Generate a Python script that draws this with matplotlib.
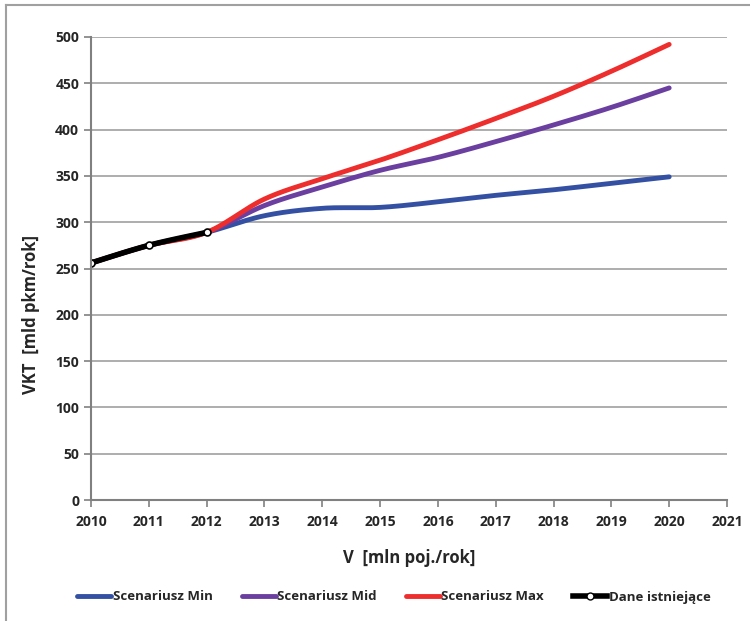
import numpy as np
import matplotlib.pyplot as plt
from matplotlib.lines import Line2D

plt.rcParams['font.family'] = ['Open Sans', 'DejaVu Sans']

years = [2010, 2011, 2012, 2013, 2014, 2015, 2016, 2017, 2018, 2019, 2020]
scen_min = [256, 275, 289, 307, 315, 316, 322, 329, 335, 342, 349]
scen_mid = [256, 275, 289, 318, 338, 356, 370, 387, 405, 424, 445]
scen_max = [256, 275, 289, 325, 347, 367, 389, 412, 436, 463, 492]
hist_years = [2010, 2011, 2012]
hist_vals = [256, 275, 289]


def smooth(x, y, n=30):
    # Catmull-Rom like Excel "smoothed line"
    x = np.asarray(x, float)
    y = np.asarray(y, float)
    px = np.concatenate([[x[0]], x, [x[-1]]])
    py = np.concatenate([[y[0]], y, [y[-1]]])
    xs, ys = [], []
    for i in range(1, len(px) - 2):
        p0, p1, p2, p3 = [np.array([px[j], py[j]]) for j in (i - 1, i, i + 1, i + 2)]
        c1 = p1 + (p2 - p0) / 6
        c2 = p2 - (p3 - p1) / 6
        t = np.linspace(0, 1, n)[:, None]
        b = (1 - t) ** 3 * p1 + 3 * (1 - t) ** 2 * t * c1 + 3 * (1 - t) * t ** 2 * c2 + t ** 3 * p2
        xs.extend(b[:, 0])
        ys.extend(b[:, 1])
    return xs, ys


fig = plt.figure(figsize=(7.5, 6.21), dpi=100)
ax = fig.add_axes([91 / 750, 1 - 500 / 621, (727 - 91) / 750, (500 - 37) / 621])

ax.plot(*smooth(years, scen_min), color='#3350a3', lw=3.5, solid_capstyle='round', label='Scenariusz Min')
ax.plot(*smooth(years, scen_mid), color='#6b3fa0', lw=3.5, solid_capstyle='round', label='Scenariusz Mid')
ax.plot(*smooth(years, scen_max), color='#ee2d2d', lw=3.5, solid_capstyle='round', label='Scenariusz Max')
ax.plot(*smooth(hist_years, hist_vals), color='black', lw=4, solid_capstyle='round')
ax.plot(hist_years, hist_vals, 'o', color='black', mfc='white', mec='black', ms=5, mew=1.2)
ax.plot([], [], color='black', lw=4, marker='o', mfc='white', mec='black', ms=5, label='Dane istniejące')

ax.set_xlim(2010, 2021)
ax.set_ylim(0, 500)
ax.set_xticks(range(2010, 2022))
ax.set_yticks(range(0, 501, 50))
ax.grid(axis='y', color='#a0a0a0', lw=1.2)
ax.set_axisbelow(True)
for s in ['top', 'right']:
    ax.spines[s].set_visible(False)
for s in ['left', 'bottom']:
    ax.spines[s].set_color('#808080')
    ax.spines[s].set_linewidth(1.5)
ax.tick_params(direction='out', length=5, color='#808080', width=1.2, labelsize=10, labelcolor='#262626')
for lab in ax.get_xticklabels() + ax.get_yticklabels():
    lab.set_fontweight('bold')
ax.tick_params(axis='x', pad=6)

ax.set_xlabel('V  [mln poj./rok]', fontsize=12, fontweight='bold', labelpad=14, color='#262626')
ax.set_ylabel('VKT  [mld pkm/rok]', fontsize=12, fontweight='bold', labelpad=12, color='#262626')
ax.yaxis.set_label_coords(-0.08, 0.40)

leg = fig.legend(loc='center', bbox_to_anchor=(0.525, 1 - 597 / 621), ncol=4, frameon=False,
                 fontsize=9.5, handlelength=2.6, handletextpad=0.1, columnspacing=2.2)
for t in leg.get_texts():
    t.set_fontweight('bold')
    t.set_color('#262626')

# chart frame
fig.add_artist(Line2D([6 / 750, 6 / 750], [0, 1 - 5 / 621], color='#a0a0a0', lw=1.5, transform=fig.transFigure))
fig.add_artist(Line2D([6 / 750, 1], [1 - 5 / 621, 1 - 5 / 621], color='#a0a0a0', lw=1.5, transform=fig.transFigure))

plt.savefig('out.png')
